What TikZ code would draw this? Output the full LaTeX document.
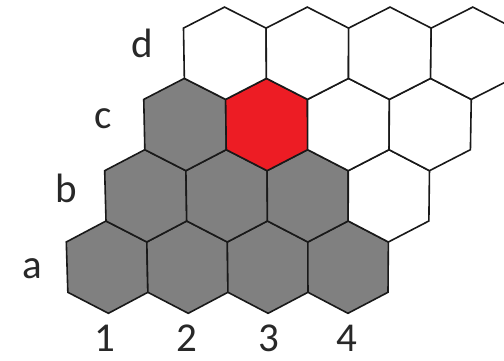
\documentclass[tikz,border=0pt]{standalone}
\usepackage{fontspec}
\setmainfont{Carlito}
\definecolor{hexgray}{RGB}{128,128,128}
\definecolor{hexred}{RGB}{237,28,36}
\definecolor{edgecol}{RGB}{25,25,25}
\definecolor{labelcol}{RGB}{40,40,40}
\tikzset{
  hexcell/.style={draw=edgecol, line width=1.6pt, line join=miter},
  lab/.style={text=labelcol, font=\fontsize{41}{44}\selectfont, anchor=base, inner sep=0pt, text depth=0pt},
}
\newcommand\hexcell[3]{%
 \pgfmathsetmacro\hcX{#2+0.5+0.5*#1}%
 \pgfmathsetmacro\hcL{\hcX-0.5}%
 \pgfmathsetmacro\hcR{\hcX+0.5}%
 \pgfmathsetmacro\hcA{221-71.3*#1}%
 \pgfmathsetmacro\hcB{\hcA+21}%
 \pgfmathsetmacro\hcC{\hcA+71.3}%
 \pgfmathsetmacro\hcD{\hcA+92.3}%
 \filldraw[hexcell,fill=#3] ({px(\hcX,\hcA)},{360-\hcA}) -- ({px(\hcR,\hcB)},{360-\hcB}) -- ({px(\hcR,\hcC)},{360-\hcC}) -- ({px(\hcX,\hcD)},{360-\hcD}) -- ({px(\hcL,\hcC)},{360-\hcC}) -- ({px(\hcL,\hcB)},{360-\hcB}) -- cycle;%
}
\begin{document}
\begin{tikzpicture}[x=1pt,y=1pt,
  declare function={sx(\v)=80.3+(265-\v)*0.00952; ox(\v)=67-(265-\v)*0.03095; px(\u,\v)=ox(\v)+\u*sx(\v);}]
\useasboundingbox (0,0) rectangle (504,360);
\begin{scope}
\clip (0,0) rectangle (504,360);
% row a
\hexcell{0}{0}{hexgray}
\hexcell{0}{1}{hexgray}
\hexcell{0}{2}{hexgray}
\hexcell{0}{3}{hexgray}
% row b
\hexcell{1}{0}{hexgray}
\hexcell{1}{1}{hexgray}
\hexcell{1}{2}{hexgray}
\hexcell{1}{3}{white}
% row c
\hexcell{2}{0}{hexgray}
\hexcell{2}{1}{hexred}
\hexcell{2}{2}{white}
\hexcell{2}{3}{white}
% row d
\hexcell{3}{0}{white}
\hexcell{3}{1}{white}
\hexcell{3}{2}{white}
\hexcell{3}{3}{white}
\end{scope}
\node[lab] (ld) at (142,303) {d};
\node[lab] (lc) at (103,232) {c};
\node[lab] (lb) at (66,158) {b};
\node[lab] (la) at (32,82) {a};
\node[lab] (n1) at (105,9) {1};
\node[lab] (n2) at (187,9) {2};
\node[lab] (n3) at (269,9) {3};
\node[lab] (n4) at (347,9) {4};
\end{tikzpicture}
\end{document}
